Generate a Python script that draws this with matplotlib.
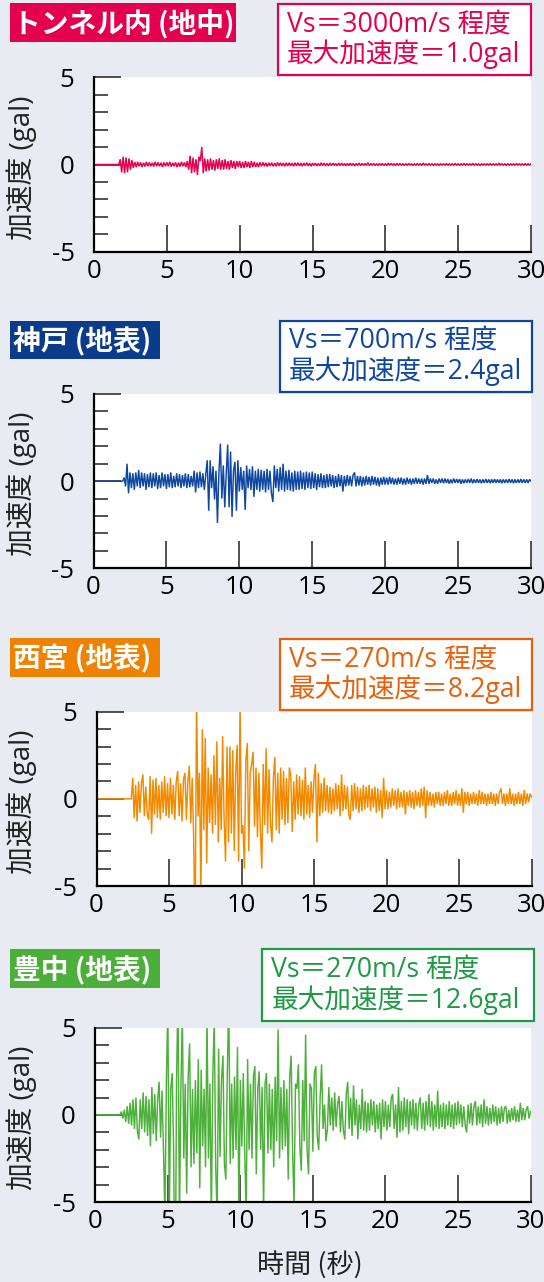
import numpy as np
import matplotlib
matplotlib.use('Agg')
import matplotlib.pyplot as plt
from matplotlib.patches import Rectangle

plt.rcParams['font.family'] = ['Noto Sans CJK JP', 'DejaVu Sans']

# ---------------- data ----------------
titles = ['トンネル内 (地中)', '神戸 (地表)', '西宮 (地表)', '豊中 (地表)']
vs_labels = ['Vs＝3000m/s 程度', 'Vs＝700m/s 程度', 'Vs＝270m/s 程度', 'Vs＝270m/s 程度']
peak_labels = ['最大加速度＝1.0gal', '最大加速度＝2.4gal', '最大加速度＝8.2gal', '最大加速度＝12.6gal']
y_label = '加速度 (gal)'
x_label = '時間 (秒)'
xticks = [0, 5, 10, 15, 20, 25, 30]
yticks_major = [-5, 0, 5]
yticks_minor = [-5, -4, -3, -2, -1, 0, 1, 2, 3, 4, 5]

dt = 0.1                       # sampling interval of the digitised records (s)
onsets = [1.7, 2.0, 2.4, 1.7]  # time of first listed sample (s)

acc_tunnel = [
    0.0, 0.3, -0.45,
    0.45, -0.5, 0.4, -0.45, 0.35, -0.3, 0.25, -0.2, 0.15, -0.15,
    0.15, -0.1, 0.12, -0.15, 0.1, -0.12, 0.15, -0.1, 0.12, -0.1,
    0.1, -0.12, 0.15, -0.1, 0.12, -0.1, 0.1, -0.15, 0.12, -0.1,
    0.12, -0.1, 0.15, -0.12, 0.1, -0.1, 0.12, -0.15, 0.1, -0.12,
    0.15, -0.1, 0.12, -0.15, 0.2, -0.3, 0.5, -0.5, 0.4, -0.45,
    0.3, -0.6, 0.45, 0.2, 1.0, -0.5, 0.35, -0.4, 0.3, -0.35,
    0.35, -0.3, 0.25, -0.35, 0.3, -0.25, 0.35, -0.3, 0.25, -0.3,
    0.3, -0.25, 0.2, -0.3, 0.25, -0.2, 0.2, -0.25, 0.2, -0.15,
    0.2, -0.2, 0.15, -0.2, 0.2, -0.15, 0.15, -0.2, 0.2, -0.15,
    0.15, -0.15, 0.1, -0.15, 0.12, -0.1, 0.12, -0.1, 0.1, -0.12,
    0.1, -0.08, 0.1, -0.1, 0.08, -0.1, 0.12, -0.08, 0.1, -0.08,
    0.08, -0.1, 0.1, -0.08, 0.1, -0.08, 0.08, -0.1, 0.1, -0.08,
    0.1, -0.08, 0.08, -0.1, 0.08, -0.06, 0.1, -0.08, 0.08, -0.1,
    0.08, -0.06, 0.08, -0.08, 0.06, -0.08, 0.1, -0.06, 0.08, -0.08,
    0.06, -0.08, 0.08, -0.06, 0.08, -0.06, 0.06, -0.08, 0.08, -0.06,
    0.08, -0.06, 0.06, -0.08, 0.06, -0.06, 0.08, -0.06, 0.06, -0.08,
    0.06, -0.06, 0.08, -0.06, 0.06, -0.05, 0.06, -0.06, 0.1, -0.06,
    0.06, -0.05, 0.06, -0.06, 0.05, -0.06, 0.06, -0.05, 0.06, -0.06,
    0.05, -0.06, 0.08, -0.05, 0.06, -0.05, 0.05, -0.06, 0.06, -0.05,
    0.06, -0.05, 0.05, -0.06, 0.05, -0.05, 0.06, -0.05, 0.05, -0.06,
    0.05, -0.05, 0.06, -0.05, 0.05, -0.06, 0.08, -0.05, 0.05, -0.05,
    0.06, -0.05, 0.05, -0.06, 0.05, -0.05, 0.05, -0.06, 0.05, -0.05,
    0.05, -0.05, 0.06, -0.05, 0.05, -0.05, 0.05, -0.05, 0.06, -0.05,
    0.05, -0.06, 0.05, -0.05, 0.06, -0.05, 0.05, -0.05, 0.05, -0.05,
    0.06, -0.05, 0.05, -0.05, 0.05, -0.06, 0.05, -0.05, 0.05, -0.05,
    0.05, -0.05, 0.06, -0.05, 0.05, -0.05, 0.05, -0.05, 0.08, -0.05,
    0.05, -0.05, 0.05, -0.06, 0.05, -0.05, 0.05, -0.05, 0.05, -0.05,
    0.06, -0.05, 0.05, -0.05, 0.05, -0.05, 0.06, -0.05, 0.05, -0.05,
    0.05,
]

acc_kobe = [
    0.0, 0.2, -0.3, 1.0, -0.7, 0.5, -0.4, 0.45, -0.5, 0.5,
    -0.3, 0.64, -0.4, 0.5, -0.3, 0.45, -0.5, 0.4, -0.35, 0.5,
    -0.4, 0.45, -0.3, 0.5, -0.45, 0.35, -0.4, 0.5, -0.3, 0.4,
    -0.45, 0.4, -0.35, 0.5, -0.4, 0.3, -0.35, 0.45, -0.3, 0.4,
    -0.4, 0.35, -0.3, 0.45, -0.4, 0.4, -0.35, 0.3, -0.3, 0.6,
    -0.65, 0.5, -0.4, 0.55, -0.35, 0.45, -0.5, 0.4, 1.2, -1.7,
    1.2, -0.4, 0.85, -1.05, 0.6, -2.4, 0.5, 2.15, -1.0, 0.9,
    -1.5, 0.4, 2.1, -1.5, 1.7, -2.05, 0.6, 1.1, -1.7, 1.2,
    -0.6, 0.8, -0.5, 0.6, -1.65, 0.9, -0.4, 0.7, -0.5, 0.85,
    -0.9, 0.6, -0.5, 0.7, -0.6, 0.65, -0.5, 0.6, -0.65, 0.7,
    -0.5, 0.6, -0.7, -1.2, 0.9, -0.4, 0.7, -0.6, 0.8, -0.5,
    1.0, -0.6, 0.6, -0.5, 0.65, -0.55, 0.5, -0.6, 0.6, -0.5,
    0.55, -0.5, 0.6, -0.45, 0.5, -0.5, 0.55, -0.4, 0.5, -0.45,
    0.55, -0.4, 0.45, -0.5, 0.4, -0.35, 0.45, -0.4, 0.35, -0.4,
    0.4, -0.35, 0.4, -0.3, 0.35, -0.4, 0.3, -0.35, 0.4, -0.3,
    0.35, -0.6, 0.3, -0.3, 0.35, -0.25, 0.3, -0.3, 0.35, 0.5,
    -0.3, 0.3, -0.25, 0.3, -0.3, 0.25, -0.25, 0.3, -0.2, 0.25,
    -0.25, 0.3, -0.2, 0.25, -0.25, 0.2, -0.3, 0.2, -0.2, 0.25,
    -0.2, 0.2, -0.2, 0.25, -0.15, 0.2, -0.2, 0.15, -0.2, 0.2,
    -0.15, 0.2, -0.2, 0.15, -0.2, 0.2, -0.15, 0.15, -0.2, 0.15,
    -0.15, 0.2, -0.15, 0.15, -0.15, 0.15, -0.2, 0.15, -0.15, 0.35,
    -0.15, 0.15, -0.1, 0.15, -0.15, 0.1, -0.15, 0.15, -0.1, 0.15,
    -0.12, 0.15, -0.1, 0.12, -0.15, 0.1, -0.12, 0.15, -0.1, 0.12,
    -0.1, 0.12, -0.15, 0.1, -0.12, 0.1, -0.1, 0.12, -0.1, 0.15,
    -0.12, 0.1, -0.1, 0.12, -0.1, 0.1, -0.12, 0.1, -0.1, 0.12,
    -0.1, 0.1, -0.12, 0.1, -0.1, 0.12, -0.1, 0.1, -0.1, 0.1,
    -0.12, 0.1, -0.1, 0.1, -0.1, 0.12, -0.1, 0.1, -0.12, 0.1,
    -0.1, 0.1, -0.1, 0.12, -0.1, 0.1, -0.1, 0.1, -0.1, 0.1,
    0.0,
]

acc_nishinomiya = [
    0.0,
    1.2, -1.1, 0.8, -1.3, 1.0,
    -0.8, 0.9, 1.4, -1.0, 0.7, -0.9, -1.2, 1.3, -2.0, 1.1,
    -0.9, 1.2, -1.1, 0.8, -1.2, 1.0, -0.8, 1.3, -1.0, 0.9,
    -1.1, 1.2, -0.9, 0.8, -1.2, 1.0, 1.6, -1.0, 0.9, -1.3,
    1.1, 1.5, -1.2, 1.0, 1.9, -1.4, 1.2, -2.2, -8.2, 6.0,
    -1.0, 1.5, -5.5, 4.0, -1.8, 3.5, -3.7, 1.8, -1.4, 1.4,
    -2.0, 2.5, -1.5, 3.3, -2.5, 1.2, -1.8, 3.6, -1.2, -3.6,
    3.0, -2.5, 3.0, -2.0, 2.8, -3.0, 1.5, 3.1, -3.6, 5.5,
    -2.0, -1.5, -4.0, 2.2, 3.2, -3.0, 1.5, 2.0, 2.7, -1.6,
    1.8, -2.2, 1.5, -1.8, -4.0, 2.0, -1.5, 2.9, -2.0, 1.7,
    -1.4, -2.5, 1.2, 2.4, -1.8, 1.5, -2.0, 1.8, -1.2, 1.6,
    -1.5, 1.2, -1.4, 1.8, 1.3, -1.9, 1.0, -1.2, 1.4, -0.9,
    1.3, -1.0, 1.1, -1.2, 1.8, -0.9, 0.8, -1.1, 1.0, -0.8,
    1.2, 2.0, -2.5, 1.5, -1.0, 0.9, -0.8, 1.2, -0.7, 0.8,
    -0.8, 0.7, -0.9, 0.6, -0.7, 0.9, -0.6, 0.8, -1.0, 1.4,
    -0.7, 0.8, -0.6, 0.7, -0.9, -1.2, 0.8, -0.7, 0.9, -0.6,
    0.7, -0.8, 0.6, -0.7, 0.8, -0.6, 0.7, -0.5, 0.8, -0.7,
    0.6, -0.5, 0.7, -0.8, 0.6, -0.7, 0.5, -1.1, 1.2, -0.6,
    0.5, -0.6, 0.4, -0.5, 0.6, -0.4, 0.5, -0.6, 0.6, -0.5,
    0.4, -0.5, 0.5, -0.9, 0.4, -0.4, 0.5, -0.5, 0.4, -0.6,
    0.5, -0.4, 0.4, -0.5, 0.6, -0.4, 0.7, -1.1, 0.5, -0.4,
    0.4, -0.4, 0.3, -0.5, 0.4, -0.3, 0.4, -0.4, 0.3, -0.4,
    0.4, -0.3, 0.5, -0.4, 0.3, -0.4, 0.4, -0.3, 0.5, -0.4,
    0.3, -0.4, 0.6, -0.8, 0.4, -0.3, 0.4, -0.4, 0.3, -0.3,
    0.4, -0.3, 0.3, -0.4, 0.5, -0.3, 0.4, -0.3, 0.3, -0.4,
    0.3, -0.3, 0.4, -0.3, 0.3, -0.4, 0.3, -0.3, 0.4, 0.6,
    -0.3, 0.3, -0.4, 0.3, -0.3, 0.6, -0.3, 0.3, -0.4, 0.3,
    -0.3, 0.4, -0.3, 0.3, -0.4, 0.5, -0.3, 0.3, -0.2, 0.3,
    0.1,
]

acc_toyonaka = [
    0.0, 0.2, -0.2,
    0.3, -0.4, 0.5, -0.5, 0.7, -0.6, 0.9, -0.8, 1.0, -0.9,
    -1.4, 0.9, -0.8, 1.3, -1.0, 1.1, -1.2, 0.9, -1.8, 1.6,
    -1.1, 1.2, -1.5, 0.9, 1.9, -1.3, 1.4, -2.0, -5.8, 2.0,
    6.2, -6.0, 1.5, 2.4, -2.0, -12.6, 2.0, 7.0, -6.2, 1.5,
    5.8, -2.5, 1.8, -4.5, 2.2, 4.1, -3.0, 1.5, -2.8, 2.0,
    -2.2, 3.2, -4.2, 2.6, -1.8, 1.5, -3.0, 5.6, -2.5, 1.8,
    -6.0, 2.2, 5.5, -3.0, -5.8, 3.8, -2.4, 2.0, 3.4, -2.8,
    -3.7, 2.5, 6.5, -2.8, 1.8, -2.5, 2.2, -2.0, 3.9, -5.8,
    2.0, -1.8, 2.4, -2.2, -5.6, 3.2, -2.0, 1.8, -2.5, 2.2,
    2.8, -3.4, 1.5, 2.5, -2.0, 1.6, -5.5, 1.8, 2.4, -2.2,
    1.8, -2.0, 1.5, -3.0, 2.2, -1.5, 4.9, -2.5, 1.6, -2.0,
    2.0, -1.8, 1.5, -3.7, 2.2, 3.4, -2.0, -5.2, 1.8, 1.5,
    2.9, -1.8, -3.2, 2.0, -1.5, 4.6, -2.0, -3.4, 1.8, 1.5,
    -2.1, 2.4, 2.8, -1.2, -2.0, 1.0, 2.9, -0.8, 0.6, -1.5,
    -0.8, 1.6, -0.6, 1.0, -0.9, 1.3, -0.7, 0.6, 1.1, -1.0,
    0.8, -0.9, -1.4, 1.2, 1.9, -0.8, 1.0, -1.2, 1.7, -0.6,
    0.9, -1.4, 0.6, -0.8, 1.5, -0.9, 0.8, -1.0, 0.7, -0.9,
    0.9, -0.6, 0.8, -1.0, 0.6, -0.8, 0.7, -1.4, 0.9, -0.7,
    0.8, -0.9, 0.6, -0.7, 1.0, 1.2, -0.8, 0.6, -1.3, 1.6,
    -1.0, 0.8, -0.9, 1.0, -0.7, 0.9, -1.1, 0.8, -0.6, 0.9,
    -0.8, 0.7, -0.9, 0.6, 1.0, -0.8, 0.7, -0.9, 0.8, -0.6,
    1.2, -0.7, 0.8, -0.9, 0.6, -0.7, 1.4, -0.8, 0.6, -0.7,
    0.7, -0.8, 0.6, -0.6, 0.8, -0.7, 0.6, -0.8, 0.7, -0.6,
    0.8, -0.5, 0.6, -0.7, 0.5, -0.6, -1.0, 0.6, -0.5, 0.7,
    -0.6, 0.5, 0.8, -0.6, 0.5, -0.5, 0.6, -0.7, 0.9, -0.5,
    0.5, -0.6, 0.4, -0.5, 0.6, -0.4, 0.5, -0.6, 0.4, -0.5,
    0.5, -0.4, 0.4, 0.5, -0.5, 0.3, -0.4, 0.4, -0.3, 0.5,
    -0.4, 0.3, -0.4, 0.7, -0.3, 0.4, -0.3, 0.3, 0.5, -0.2,
    0.2,
]

records = [acc_tunnel, acc_kobe, acc_nishinomiya, acc_toyonaka]

# ---------------- style ----------------
BG = '#E8ECF2'
box_colors = ['#E4004F', '#0B3C8C', '#EF8200', '#4CAF3A']
line_colors = ['#E4004F', '#0D47A1', '#F28A00', '#4DB03A']
info_colors = ['#E4004F', '#0F47A0', '#E8600C', '#1E9A46']
LATIN = ['Open Sans', 'Noto Sans CJK JP', 'DejaVu Sans']

W, H = 544, 1282
fig = plt.figure(figsize=(W / 100, H / 100), dpi=100, facecolor=BG)


def fx(x):
    return x / W


def fy(y):
    return 1 - y / H


# axes rectangles in pixels: (left, right, top, bottom)
ax_px = [(94.0, 531.0, 77.3, 251.7),
         (93.5, 531.0, 394.0, 568.3),
         (96.5, 531.5, 711.7, 886.0),
         (95.3, 530.5, 1027.7, 1202.3)]
title_px = [(10.4, 236.0, 3.3, 41.7),
            (10.4, 160.0, 320.7, 358.7),
            (10.4, 160.0, 638.3, 676.7),
            (10.4, 160.0, 949.3, 987.7)]
info_px = [(278.0, 531.0, 4.0, 75.0),
           (280.0, 532.0, 320.7, 392.0),
           (280.0, 532.0, 639.3, 710.0),
           (262.3, 534.0, 949.3, 1021.0)]

for i in range(4):
    l, r, t, b = ax_px[i]
    ax = fig.add_axes([fx(l), fy(b), (r - l) / W, (b - t) / H])
    ax.set_facecolor('white')
    acc = np.asarray(records[i], dtype=float)
    times = onsets[i] + dt * np.arange(len(acc))
    times = np.concatenate([[0.0], times])
    acc = np.concatenate([[0.0], acc])
    ax.plot(times, acc, color=line_colors[i], lw=1.05, solid_joinstyle='miter')
    ax.set_xlim(0, 30)
    ax.set_ylim(-5, 5)
    ax.set_xticks(xticks)
    ax.set_xticklabels([str(v) for v in xticks], family=LATIN)
    ax.set_yticks(yticks_major)
    ax.set_yticklabels([str(v) for v in yticks_major], family=LATIN)
    ax.set_yticks(yticks_minor, minor=True)
    for s in ['top', 'right']:
        ax.spines[s].set_visible(False)
    for s in ['left', 'bottom']:
        ax.spines[s].set_linewidth(1.6)
        ax.spines[s].set_color('black')
    ax.tick_params(axis='x', which='major', direction='in', length=19.5, width=1.2,
                   color='#333333', labelsize=18.5, pad=5)
    ax.tick_params(axis='y', which='major', direction='in', length=19.5, width=1.2,
                   color='#333333', labelsize=18.5, pad=14)
    ax.tick_params(axis='y', which='minor', direction='in', length=10, width=1.2,
                   color='#333333')
    ax.tick_params(axis='x', which='minor', bottom=False)

    # y label
    fig.text(fx(22), fy((t + b) / 2 + 3), y_label, rotation=90, ha='center', va='center',
             fontsize=20, color='#222222', family=LATIN)

    # title box
    x0, x1, y0, y1 = title_px[i]
    fig.patches.append(Rectangle((fx(x0), fy(y1)), (x1 - x0) / W, (y1 - y0) / H,
                                 transform=fig.transFigure, facecolor=box_colors[i],
                                 edgecolor='none'))
    fig.text(fx(x0 + 2.5), fy((y0 + y1) / 2 + 1), titles[i], color='white',
             fontsize=20, fontweight='bold', ha='left', va='center')

    # info box
    x0, x1, y0, y1 = info_px[i]
    fig.patches.append(Rectangle((fx(x0), fy(y1)), (x1 - x0) / W, (y1 - y0) / H,
                                 transform=fig.transFigure, facecolor='white',
                                 edgecolor=info_colors[i], lw=1.6))
    yc = (y0 + y1) / 2
    fig.text(fx(x0 + 9), fy(yc - 14.5), vs_labels[i], color=info_colors[i],
             fontsize=19.2, ha='left', va='center', family=LATIN)
    fig.text(fx(x0 + 9), fy(yc + 15), peak_labels[i], color=info_colors[i],
             fontsize=19.2, ha='left', va='center', family=LATIN)

fig.text(fx(310), fy(1266), x_label, ha='center', va='center', fontsize=19.5,
         color='#222222')

fig.savefig('out.png', dpi=100, facecolor=BG)
